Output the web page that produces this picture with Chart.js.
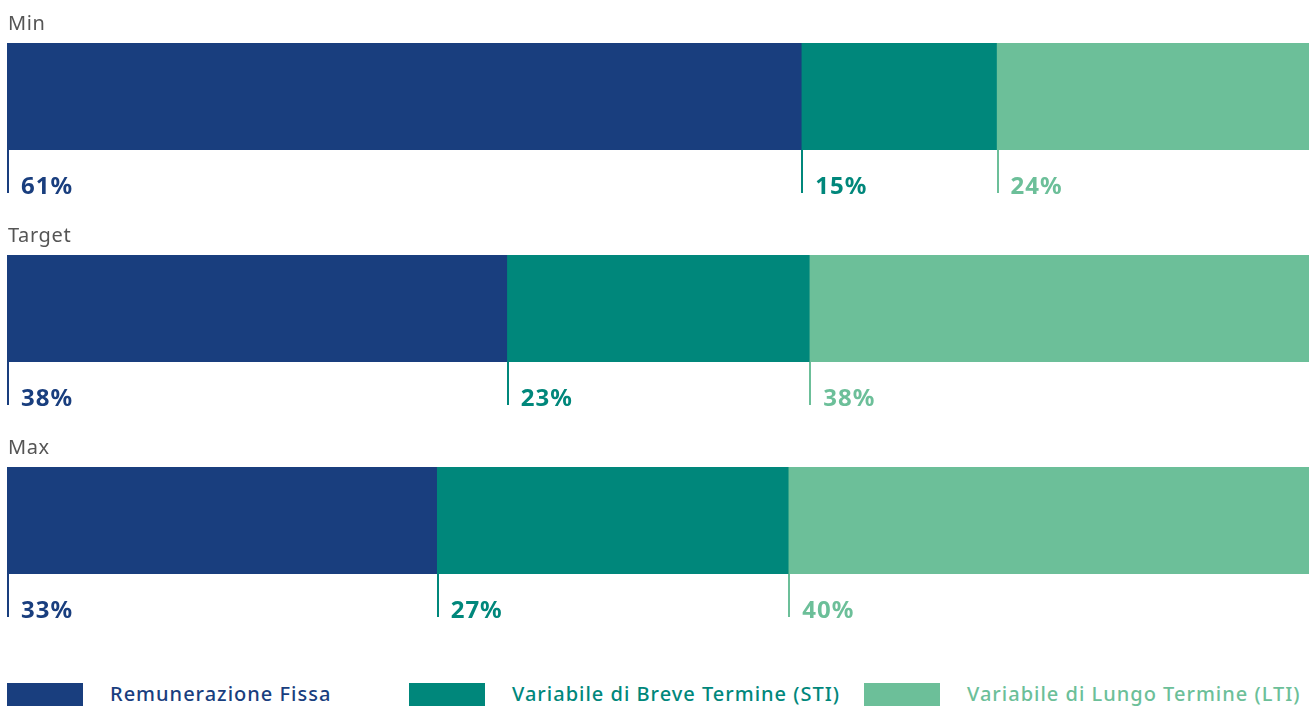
<!DOCTYPE html>
<html lang="it">
<head>
<meta charset="UTF-8">
<title>Pay mix</title>
<style>
  body { margin: 0; background: #fff; font-family: "Noto Sans", sans-serif; }
  #rows canvas { display: block; }
  #legend { display: grid; grid-template-columns: 402px 455px auto; margin: 46px 0 0 7px; }
  .item { display: flex; align-items: center; font-size: 20px; font-weight: 500; letter-spacing: 1px; line-height: 24px; }
  .item span.box { display: inline-block; width: 76px; height: 23px; margin-right: 27px; }
</style>
</head>
<body>
<div id="rows"></div>
<div id="legend"></div>

<script src="https://cdn.jsdelivr.net/npm/chart.js@4/dist/chart.umd.min.js"></script>
<script>
const rows = ["Min", "Target", "Max"];
const seriesNames = ["Remunerazione Fissa", "Variabile di Breve Termine (STI)", "Variabile di Lungo Termine (LTI)"];
const fissa = [61, 38, 33];
const breve = [15, 23, 27];
const lungo = [24, 38, 40];
const colors = ["#193e7e", "#00877b", "#6cbf99"];

// row name above the bar, value callouts under each segment
const callouts = {
  id: "callouts",
  afterDatasetsDraw(chart) {
    const ctx = chart.ctx;
    ctx.save();
    ctx.textBaseline = "alphabetic";
    const bar0 = chart.getDatasetMeta(0).data[0];
    ctx.fillStyle = "#555";
    ctx.font = "20px 'Noto Sans'";
    ctx.letterSpacing = "0.6px";
    ctx.fillText(chart.data.labels[0], 8, bar0.y - bar0.height / 2 - 13);
    chart.data.datasets.forEach((ds, d) => {
      const bar = chart.getDatasetMeta(d).data[0];
      const left = Math.min(bar.x, bar.base);
      const bottom = bar.y + bar.height / 2;
      ctx.fillStyle = ds.backgroundColor;
      ctx.fillRect(Math.round(left), bottom, 2, 43);
      ctx.font = "bold 24px 'Noto Sans'";
      ctx.letterSpacing = "1px";
      ctx.fillText(ds.data[0] + "%", left + 14, bottom + 44);
    });
    ctx.restore();
  }
};

const holder = document.getElementById("rows");
rows.forEach((row, r) => {
  const canvas = document.createElement("canvas");
  canvas.width = 1311;
  canvas.height = 212;
  holder.appendChild(canvas);
  const vals = [fissa[r], breve[r], lungo[r]];
  new Chart(canvas, {
    type: "bar",
    data: {
      labels: [row],
      datasets: vals.map((v, i) => ({
        label: seriesNames[i],
        data: [v],
        backgroundColor: colors[i],
        barThickness: 107
      }))
    },
    options: {
      indexAxis: "y",
      responsive: false,
      animation: false,
      layout: { padding: { left: 7, right: 2, top: 43, bottom: 62 } },
      scales: {
        x: { stacked: true, min: 0, max: vals.reduce((a, b) => a + b, 0), display: false },
        y: { stacked: true, display: false }
      },
      plugins: { legend: { display: false }, tooltip: { enabled: false } }
    },
    plugins: [callouts]
  });
});

const legend = document.getElementById("legend");
seriesNames.forEach((name, i) => {
  const item = document.createElement("div");
  item.className = "item";
  item.style.color = colors[i];
  item.innerHTML = '<span class="box" style="background:' + colors[i] + '"></span>' + name;
  legend.appendChild(item);
});
</script>
</body>
</html>
